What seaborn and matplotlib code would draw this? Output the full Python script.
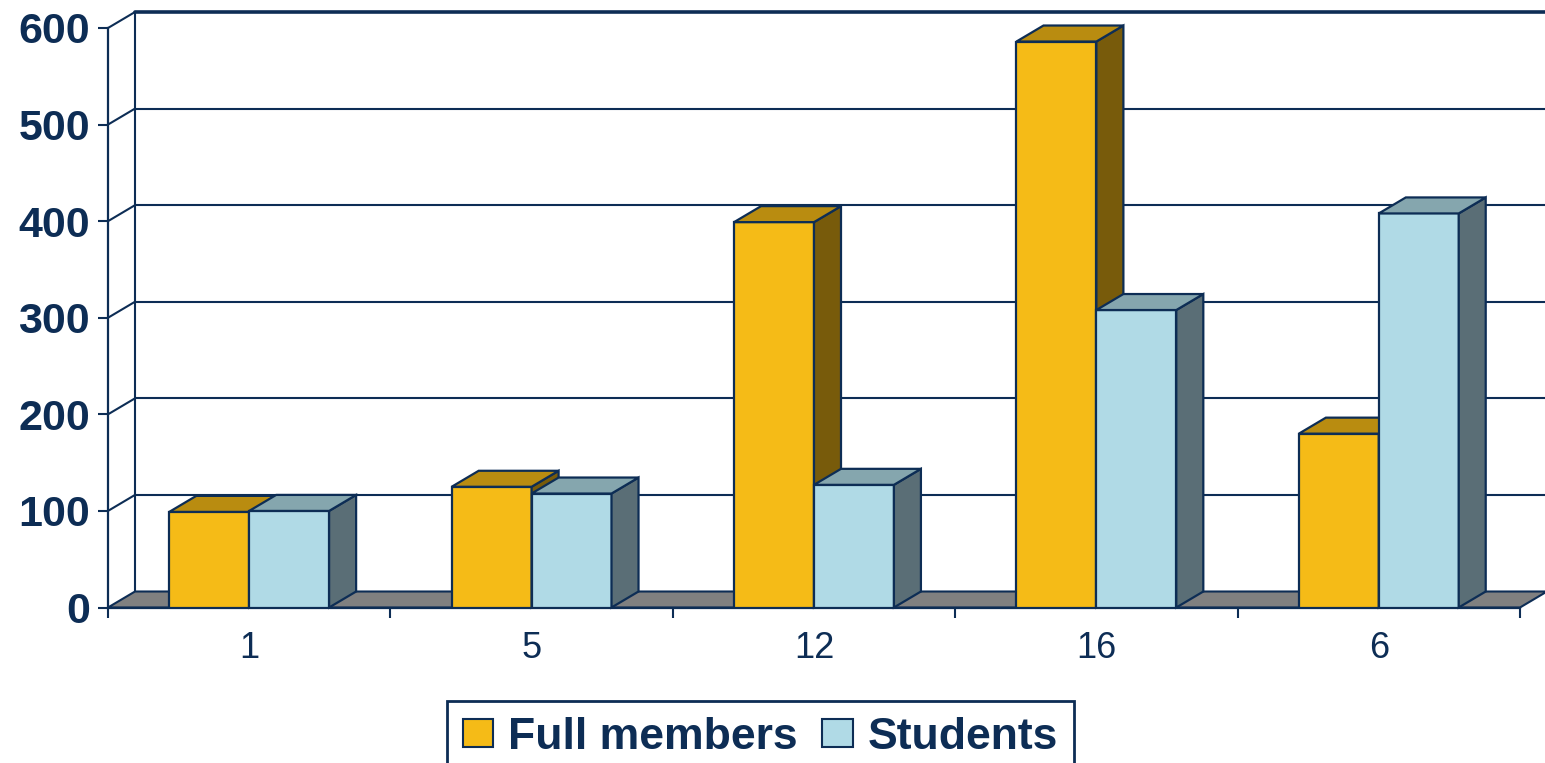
import numpy as np
import pandas as pd
import matplotlib
matplotlib.use('Agg')
import matplotlib.pyplot as plt
import seaborn as sns
from matplotlib.patches import Polygon, Patch

## data
categories = ['1', '5', '12', '16', '6']
full_members = [99, 125, 399, 586, 180]
students = [100, 118, 127, 308, 408]
series_names = ['Full members', 'Students']
y_ticks = [0, 100, 200, 300, 400, 500, 600]

NAVY = '#0d2d55'
front_colors = {'Full members': '#f5bb17', 'Students': '#b0dae6'}
top_colors = {'Full members': '#b98c10', 'Students': '#85a6ae'}
side_colors = {'Full members': '#785b0b', 'Students': '#5a6e76'}

df = pd.DataFrame({
    'group': categories * 2,
    'count': full_members + students,
    'series': [series_names[0]] * len(categories) + [series_names[1]] * len(categories),
})

sns.set_style('white')
plt.rcParams['font.family'] = ['Liberation Sans', 'DejaVu Sans']

W, H = 1545, 763
fig = plt.figure(figsize=(W / 100, H / 100), dpi=100)
ax = fig.add_axes([108 / W, 1 - 607.5 / H, 1412 / W, 579.5 / H])

sns.barplot(data=df, x='group', y='count', hue='series', order=categories,
            hue_order=series_names, palette=front_colors, saturation=1,
            width=0.566, edgecolor=NAVY, linewidth=1.6, legend=False, ax=ax)
ax.set_xlim(-0.5, 4.5)
ax.set_ylim(0, 600)

# depth offset of the 3d look (27 px right, 16 px up)
dx = 27 / (1412 / 5)
dy = 16 * 600 / 579.5

# back wall grid and left wall
for v in y_ticks[1:]:
    lw = 2.6 if v == y_ticks[-1] else 1.5
    ax.plot([-0.5 + dx, 4.5 + dx], [v + dy, v + dy], color=NAVY, lw=lw, zorder=1, clip_on=False)
    ax.plot([-0.5, -0.5 + dx], [v, v + dy], color=NAVY, lw=1.5, zorder=1, clip_on=False)
ax.plot([-0.5 + dx, -0.5 + dx], [dy, y_ticks[-1] + dy], color=NAVY, lw=1.5, zorder=1, clip_on=False)

# floor
floor = Polygon([(-0.5, 0), (4.5, 0), (4.5 + dx, dy), (-0.5 + dx, dy)], closed=True,
                facecolor='#808080', edgecolor=NAVY, lw=1.5, zorder=1.5, clip_on=False)
ax.add_patch(floor)

# top and side faces of each bar
for k, (name, cont) in enumerate(zip(series_names, ax.containers)):
    z = 3 + k
    for rect in cont:
        rect.set_zorder(z)
        x0, w, h = rect.get_x(), rect.get_width(), rect.get_height()
        top = Polygon([(x0, h), (x0 + w, h), (x0 + w + dx, h + dy), (x0 + dx, h + dy)],
                      closed=True, facecolor=top_colors[name], edgecolor=NAVY, lw=1.6,
                      zorder=z, clip_on=False)
        side = Polygon([(x0 + w, 0), (x0 + w + dx, dy), (x0 + w + dx, h + dy), (x0 + w, h)],
                       closed=True, facecolor=side_colors[name], edgecolor=NAVY, lw=1.6,
                       zorder=z, clip_on=False)
        ax.add_patch(side)
        ax.add_patch(top)

# axes styling
for s in ['top', 'right']:
    ax.spines[s].set_visible(False)
for s in ['left', 'bottom']:
    ax.spines[s].set_color(NAVY)
    ax.spines[s].set_linewidth(1.6)
    ax.spines[s].set_zorder(2)

ax.set_yticks(y_ticks)
ax.tick_params(axis='y', labelsize=31, labelcolor=NAVY, color=NAVY, length=7, width=1.5, pad=6,
               left=True)
for lbl in ax.get_yticklabels():
    lbl.set_fontweight('bold')

ax.set_xticks(range(len(categories)))
ax.set_xticklabels(categories)
ax.set_xticks(np.arange(-0.5, len(categories), 1), minor=True)
ax.tick_params(axis='x', which='major', length=0, pad=17, labelsize=26, labelcolor=NAVY)
ax.tick_params(axis='x', which='minor', length=7, width=1.5, color=NAVY, bottom=True)
ax.set_xlabel('')
ax.set_ylabel('')

handles = [Patch(facecolor=front_colors[n], edgecolor=NAVY, lw=1.5) for n in series_names]
leg = fig.legend(handles, series_names, loc='upper left', bbox_to_anchor=(447 / W, 1 - 701 / H),
                 ncol=2, frameon=True, fancybox=False, edgecolor=NAVY, framealpha=1,
                 prop={'weight': 'bold', 'size': 32}, labelcolor=NAVY,
                 handlelength=0.68, handleheight=0.6, handletextpad=0.35,
                 columnspacing=0.55, borderpad=0.35, borderaxespad=0)
leg.get_frame().set_linewidth(2)

fig.savefig('out.png', dpi=100)
